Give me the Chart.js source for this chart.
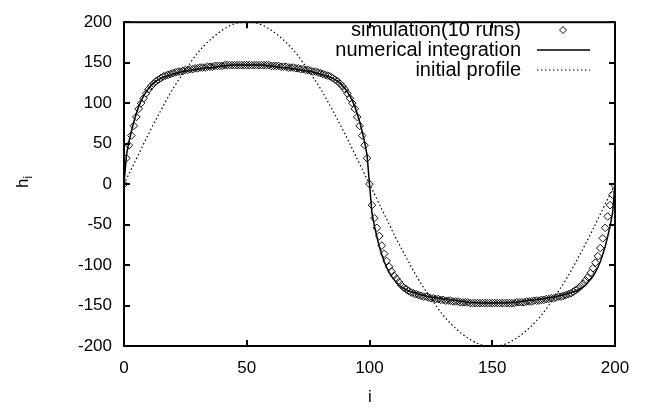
<!DOCTYPE html>
<html>
<head>
<meta charset="utf-8">
<script src="https://cdn.jsdelivr.net/npm/chart.js@4"></script>
<style>
  html, body { margin: 0; padding: 0; background: #fff; }
  #plot { display: block; }
</style>
</head>
<body>
<canvas id="plot" width="653" height="412"></canvas>
<script>
// simulation (10 runs), one value per site i = 0..200
const simI = [];
for (let i = 0; i <= 200; i++) simI.push(i);
const simH = [
    0, 32, 48, 60, 72, 83, 93, 100, 106, 112,
    117, 121, 124, 127, 129, 131, 133, 134, 135, 136,
    137, 138, 139, 139, 140, 141, 141, 142, 142, 143,
    143, 144, 144, 144, 145, 145, 145, 146, 146, 146,
    146, 147, 147, 147, 147, 147, 147, 147, 147, 147,
    147, 147, 147, 147, 147, 147, 147, 147, 147, 147,
    146, 146, 146, 146, 145, 145, 145, 144, 144, 144,
    143, 143, 142, 142, 141, 141, 140, 139, 139, 138,
    137, 136, 135, 134, 133, 131, 129, 127, 124, 121,
    117, 112, 106, 100, 93, 83, 72, 60, 48, 32,
    0, -26, -42, -54, -64, -76, -86, -95, -102, -108,
    -113, -117, -121, -125, -128, -130, -132, -134, -135, -136,
    -137, -138, -139, -139, -140, -141, -141, -142, -142, -143,
    -143, -144, -144, -144, -145, -145, -145, -146, -146, -146,
    -146, -147, -147, -147, -147, -147, -147, -147, -147, -147,
    -147, -147, -147, -147, -147, -147, -147, -147, -147, -147,
    -146, -146, -146, -146, -145, -145, -145, -144, -144, -144,
    -143, -143, -142, -142, -141, -141, -140, -139, -139, -138,
    -137, -136, -135, -133, -131, -129, -126, -123, -119, -115,
    -110, -104, -97, -89, -79, -67, -54, -40, -26, -13,
    -2
];

// numerical integration
const numI = [
    0, 1, 2, 3, 4, 5, 6, 7, 8, 9, 10, 12, 14, 16, 18, 20, 24, 28, 32, 36, 40,
    45, 50, 55, 60, 64, 68, 72, 76, 80, 82, 84, 86, 88, 90,
    91, 92, 93, 94, 95, 96, 97, 98, 99, 100,
    101, 102, 103, 104, 105, 106, 107, 108, 109, 110, 112, 114, 116, 118, 120,
    124, 128, 132, 136, 140, 145, 150, 155, 160, 164, 168, 172, 176, 180,
    182, 184, 186, 188, 190, 191, 192, 193, 194, 195, 196, 197, 198, 199, 200
];
const numH = [
    0, 36, 52, 65, 77, 87, 96, 103, 109, 114, 118, 125, 129, 132, 134, 136, 139, 141, 143, 144, 146,
    147, 147, 147, 146, 144, 143, 141, 139, 136, 134, 132, 129, 125, 118,
    114, 109, 103, 96, 87, 77, 65, 52, 36, 0,
    -36, -52, -65, -77, -87, -96, -103, -109, -114, -118, -125, -129, -132, -134, -136,
    -139, -141, -143, -144, -146, -147, -147, -147, -146, -144, -143, -141, -139, -136,
    -134, -132, -129, -125, -118, -114, -109, -103, -96, -87, -77, -65, -52, -36, 0
];

// initial profile
const initI = [
    0, 5, 10, 15, 20, 25, 30, 35, 40, 45, 50, 55, 60, 65, 70, 75, 80, 85, 90, 95, 100,
    105, 110, 115, 120, 125, 130, 135, 140, 145, 150, 155, 160, 165, 170, 175, 180, 185, 190, 195, 200
];
const initH = [
    0, 31, 62, 91, 118, 141, 162, 178, 190, 198, 200, 198, 190, 178, 162, 141, 118, 91, 62, 31, 0,
    -31, -62, -91, -118, -141, -162, -178, -190, -198, -200, -198, -190, -178, -162, -141, -118, -91, -62, -31, 0
];

const xTicks = [0, 50, 100, 150, 200];
const yTicks = [-200, -150, -100, -50, 0, 50, 100, 150, 200];
const seriesNames = ['simulation(10 runs)', 'numerical integration', 'initial profile'];

const FONT = '"Liberation Sans", Arial, sans-serif';

function pts(xs, ys) {
    return xs.map((x, k) => ({ x: x, y: ys[k] }));
}

// frame, inward ticks, legend and axis titles like gnuplot
const gnuplotFrame = {
    id: 'gnuplotFrame',
    afterDraw(chart) {
        const ctx = chart.ctx;
        const a = chart.chartArea;
        const xs = chart.scales.x;
        const ys = chart.scales.y;
        ctx.save();
        ctx.strokeStyle = '#000';
        ctx.lineWidth = 2;
        ctx.strokeRect(a.left, a.top, a.right - a.left, a.bottom - a.top);

        const tl = 6;
        ctx.beginPath();
        xTicks.forEach(v => {
            const px = Math.round(xs.getPixelForValue(v));
            ctx.moveTo(px, a.bottom); ctx.lineTo(px, a.bottom - tl);
            ctx.moveTo(px, a.top); ctx.lineTo(px, a.top + tl);
        });
        yTicks.forEach(v => {
            const py = Math.round(ys.getPixelForValue(v));
            ctx.moveTo(a.left, py); ctx.lineTo(a.left + tl, py);
            ctx.moveTo(a.right, py); ctx.lineTo(a.right - tl, py);
        });
        ctx.stroke();

        // legend
        ctx.fillStyle = '#000';
        ctx.font = '20px ' + FONT;
        ctx.textAlign = 'right';
        ctx.textBaseline = 'middle';
        const rows = [30, 50, 70];
        seriesNames.forEach((name, k) => ctx.fillText(name, 521, rows[k]));

        ctx.lineWidth = 1;
        ctx.strokeStyle = '#111';
        ctx.beginPath();
        ctx.moveTo(563 - 3.5, rows[0]);
        ctx.lineTo(563, rows[0] - 3.5);
        ctx.lineTo(563 + 3.5, rows[0]);
        ctx.lineTo(563, rows[0] + 3.5);
        ctx.closePath();
        ctx.stroke();

        ctx.strokeStyle = '#000';
        ctx.lineWidth = 1.5;
        ctx.beginPath();
        ctx.moveTo(537, rows[1]); ctx.lineTo(590, rows[1]);
        ctx.stroke();

        ctx.lineWidth = 1.2;
        ctx.setLineDash([1.5, 2.5]);
        ctx.beginPath();
        ctx.moveTo(537, rows[2]); ctx.lineTo(590, rows[2]);
        ctx.stroke();
        ctx.setLineDash([]);

        // axis titles
        ctx.textAlign = 'center';
        ctx.textBaseline = 'alphabetic';
        ctx.font = '17px ' + FONT;
        ctx.fillText('i', 370, 402);

        ctx.translate(28, 188);
        ctx.rotate(-Math.PI / 2);
        ctx.textAlign = 'left';
        ctx.fillText('h', 0, 0);
        ctx.font = '12px ' + FONT;
        ctx.fillText('i', 9.5, 4);
        ctx.restore();
    }
};

new Chart(document.getElementById('plot'), {
    type: 'scatter',
    data: {
        datasets: [
            {
                label: seriesNames[0],
                data: pts(simI, simH),
                showLine: false,
                pointStyle: 'rectRot',
                pointRadius: 3.8,
                pointBorderWidth: 1,
                pointBorderColor: '#111',
                pointBackgroundColor: 'rgba(0,0,0,0)'
            },
            {
                label: seriesNames[1],
                data: pts(numI, numH),
                showLine: true,
                borderColor: '#000',
                borderWidth: 1.5,
                pointRadius: 0,
                tension: 0
            },
            {
                label: seriesNames[2],
                data: pts(initI, initH),
                showLine: true,
                borderColor: '#000',
                borderWidth: 1.2,
                borderDash: [1.5, 2.5],
                pointRadius: 0,
                cubicInterpolationMode: 'monotone'
            }
        ]
    },
    options: {
        responsive: false,
        animation: false,
        layout: { padding: { top: 14, right: 38, left: 0, bottom: 0 } },
        plugins: {
            legend: { display: false },
            tooltip: { enabled: false }
        },
        scales: {
            x: {
                type: 'linear',
                min: 0,
                max: 200,
                grid: { display: false, drawTicks: false },
                border: { display: false },
                afterBuildTicks: s => { s.ticks = xTicks.map(v => ({ value: v })); },
                afterFit: s => { s.height = 66; },
                ticks: { color: '#000', padding: 12, maxRotation: 0, font: { family: FONT, size: 17 } }
            },
            y: {
                type: 'linear',
                min: -200,
                max: 200,
                grid: { display: false, drawTicks: false },
                border: { display: false },
                afterBuildTicks: s => { s.ticks = yTicks.map(v => ({ value: v })); },
                afterFit: s => { s.width = 124; },
                ticks: { color: '#000', padding: 12, font: { family: FONT, size: 17 } }
            }
        }
    },
    plugins: [gnuplotFrame]
});
</script>
</body>
</html>
